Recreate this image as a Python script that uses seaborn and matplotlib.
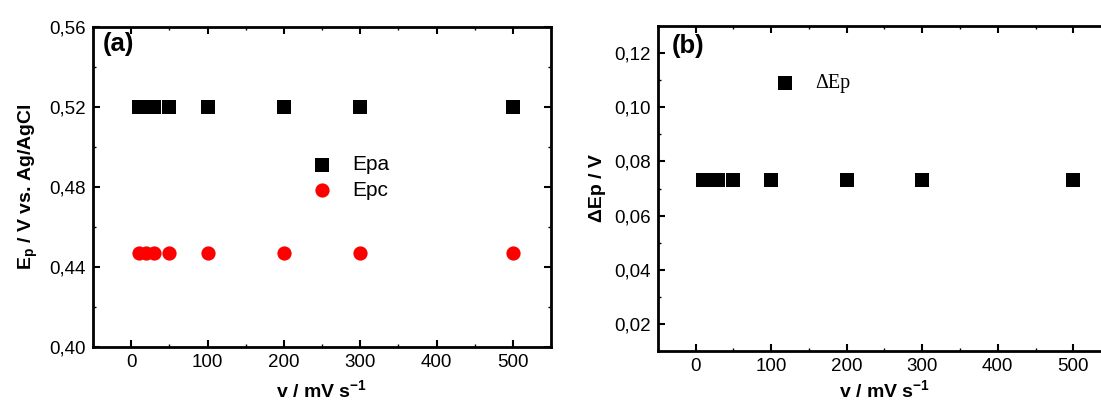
import numpy as np
import pandas as pd
import matplotlib
matplotlib.use("Agg")
import matplotlib.pyplot as plt
from matplotlib.ticker import MultipleLocator, FuncFormatter
import seaborn as sns

# scan rates (mV/s) and peak potentials (V vs. Ag/AgCl)
scanRates = [10, 20, 30, 50, 100, 200, 300, 500]
epa = [0.520, 0.520, 0.520, 0.520, 0.520, 0.520, 0.520, 0.520]
epc = [0.447, 0.447, 0.447, 0.447, 0.447, 0.447, 0.447, 0.447]
deltaEp = [0.0733, 0.0733, 0.0733, 0.0733, 0.0733, 0.0733, 0.0733, 0.0733]

sns.set_style("ticks")
plt.rcParams["font.family"] = ["Liberation Sans", "DejaVu Sans"]
plt.rcParams["mathtext.fontset"] = "custom"
plt.rcParams["mathtext.rm"] = "Liberation Sans"
plt.rcParams["mathtext.bf"] = "Liberation Sans:bold"
for key in ("text.color", "axes.labelcolor", "xtick.color", "ytick.color", "axes.edgecolor"):
    plt.rcParams[key] = "black"


def comma_fmt(x, pos):
    return ("%.2f" % x).replace(".", ",")


def style_axis(ax):
    for sp in ax.spines.values():
        sp.set_linewidth(2)
        sp.set_color("black")
    ax.tick_params(which="major", direction="in", length=5, width=1.5,
                   labelsize=13.5, top=True, right=True, pad=5)
    ax.tick_params(which="minor", direction="in", length=2.5, width=1,
                   top=True, right=True)
    ax.xaxis.set_major_locator(MultipleLocator(100))
    ax.xaxis.set_minor_locator(MultipleLocator(50))
    ax.yaxis.set_major_formatter(FuncFormatter(comma_fmt))


fig = plt.figure(figsize=(11.01, 4.03), dpi=100)
ax1 = fig.add_axes([0.0845, 0.139, 0.416, 0.794])
ax2 = fig.add_axes([0.5976, 0.129, 0.4115, 0.8065])

# (a) anodic / cathodic peak potentials
dfA = pd.DataFrame({"v": scanRates, "Epa": epa, "Epc": epc})
sns.scatterplot(data=dfA, x="v", y="Epa", marker="s", color="black", s=90,
                linewidth=0, label="Epa", ax=ax1)
sns.scatterplot(data=dfA, x="v", y="Epc", marker="o", color="red", s=105,
                linewidth=0, label="Epc", ax=ax1)
ax1.set_xlim(-50, 550)
ax1.set_ylim(0.40, 0.56)
ax1.yaxis.set_major_locator(MultipleLocator(0.04))
ax1.yaxis.set_minor_locator(MultipleLocator(0.02))
style_axis(ax1)
ax1.set_xlabel(r"v / mV s$^\mathbf{-1}$", fontsize=14, fontweight="bold", labelpad=6)
ax1.set_ylabel(r"$\mathbf{E_p}$ / V vs. Ag/AgCl", fontsize=14, fontweight="bold", labelpad=7)
ax1.text(0.022, 0.985, "(a)", transform=ax1.transAxes, fontsize=18.5,
         fontweight="bold", va="top", ha="left")
ax1.legend(loc="center left", bbox_to_anchor=(0.468, 0.53), frameon=False,
           fontsize=15, handlelength=0.6, handletextpad=1.14, labelspacing=0.3,
           borderaxespad=0)

# (b) peak separation
dfB = pd.DataFrame({"v": scanRates, "dEp": deltaEp})
sns.scatterplot(data=dfB, x="v", y="dEp", marker="s", color="black", s=90,
                linewidth=0, label="\u0394Ep", ax=ax2)
ax2.set_xlim(-50, 550)
ax2.set_ylim(0.01, 0.13)
ax2.yaxis.set_major_locator(MultipleLocator(0.02))
ax2.yaxis.set_minor_locator(MultipleLocator(0.01))
style_axis(ax2)
ax2.set_xlabel(r"v / mV s$^\mathbf{-1}$", fontsize=14, fontweight="bold", labelpad=3)
ax2.set_ylabel("\u0394Ep / V", fontsize=14, fontweight="bold", labelpad=6)
ax2.text(0.031, 0.975, "(b)", transform=ax2.transAxes, fontsize=18.5,
         fontweight="bold", va="top", ha="left")
ax2.legend(loc="center left", bbox_to_anchor=(0.249, 0.822), frameon=False,
           handlelength=0.6, handletextpad=1.19, borderaxespad=0,
           prop={"family": "Liberation Serif", "size": 14.5})

fig.savefig("out.png", dpi=100)
